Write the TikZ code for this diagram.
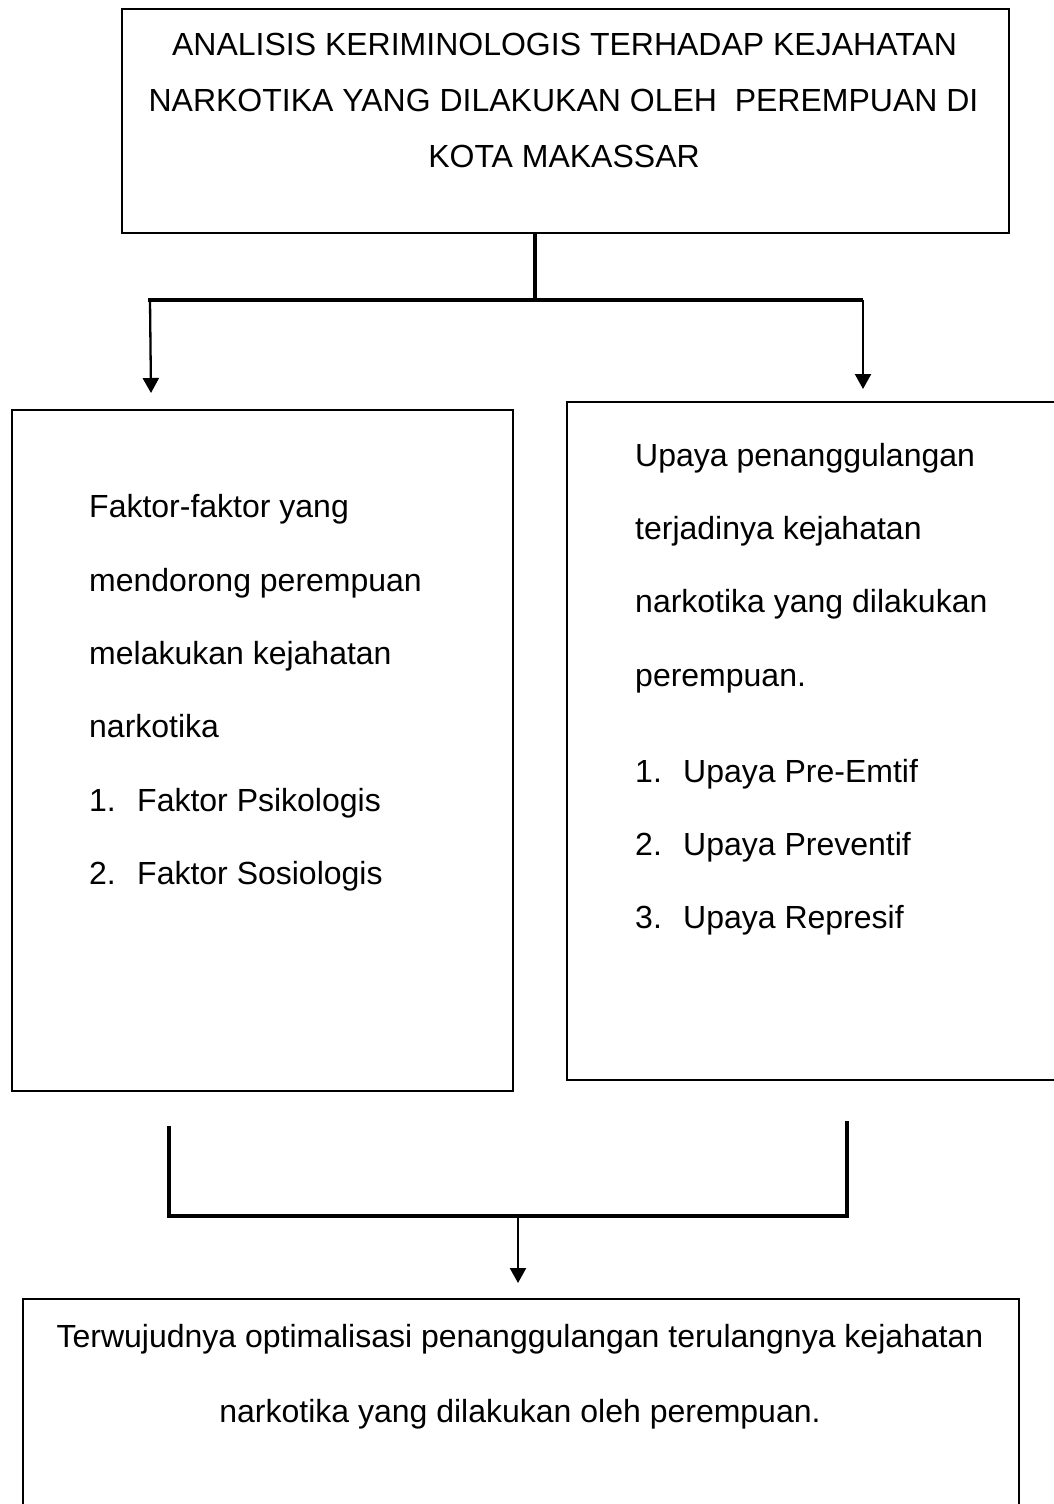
\documentclass[tikz,border=0pt]{standalone}
\usepackage{fontspec}
\setmainfont{Liberation Sans}
\usetikzlibrary{arrows.meta}
\newcommand\diagfs{\fontsize{32}{38}\selectfont}
\tikzset{
  box/.style={draw, line width=2pt, rectangle, inner sep=0pt, anchor=north west},
  txt/.style={anchor=base west, inner sep=0pt, font=\diagfs},
  ctxt/.style={anchor=base, inner sep=0pt, font=\diagfs},
  bar/.style={line width=4pt, line cap=rect},
  arr/.style={line width=2.3pt, -{Triangle[width=16pt,length=15pt]}}
}
\begin{document}
\begin{tikzpicture}[x=1pt, y=-1pt]
\path[use as bounding box, clip] (0,0) rectangle (1054,1504);
\fill[white] (0,0) rectangle (1054,1504);

% boxes
\node[box, minimum width=887pt, minimum height=224pt] (top) at (121,8) {};
\node[box, minimum width=501pt, minimum height=681pt] (left) at (11,409) {};
\node[box, minimum width=500pt, minimum height=678pt] (right) at (566,401) {};
\node[box, minimum width=996pt, minimum height=230pt] (bottom) at (22,1298) {};

% top text
\node[ctxt] (t1) at (564.5,56) {ANALISIS KERIMINOLOGIS TERHADAP KEJAHATAN};
\node[ctxt] (t2) at (563.5,111) {NARKOTIKA YANG DILAKUKAN OLEH\ \ PEREMPUAN DI};
\node[ctxt] (t3) at (564,167) {KOTA MAKASSAR};

% left text
\node[txt] (l1) at (89,517) {Faktor-faktor yang};
\node[txt] (l2) at (89,591) {mendorong perempuan};
\node[txt] (l3) at (89,664) {melakukan kejahatan};
\node[txt] (l4) at (89,737) {narkotika};
\node[txt] (l5n) at (89,811) {1.};
\node[txt] (l5) at (137,811) {Faktor Psikologis};
\node[txt] (l6n) at (89,884) {2.};
\node[txt] (l6) at (137,884) {Faktor Sosiologis};

% right text
\node[txt] (r1) at (635,466) {Upaya penanggulangan};
\node[txt] (r2) at (635,539) {terjadinya kejahatan};
\node[txt] (r3) at (635,612) {narkotika yang dilakukan};
\node[txt] (r4) at (635,686) {perempuan.};
\node[txt] (r5n) at (635,782) {1.};
\node[txt] (r5) at (683,782) {Upaya Pre-Emtif};
\node[txt] (r6n) at (635,855) {2.};
\node[txt] (r6) at (683,855) {Upaya Preventif};
\node[txt] (r7n) at (635,928) {3.};
\node[txt] (r7) at (683,928) {Upaya Represif};

% bottom text
\node[ctxt] (b1) at (520,1347) {Terwujudnya optimalisasi penanggulangan terulangnya kejahatan};
\node[ctxt] (b2) at (520,1422) {narkotika yang dilakukan oleh perempuan.};

% upper connectors
\coordinate (jm) at (535,300);
\coordinate (jl) at (150,300);
\coordinate (jr) at (863,300);
\coordinate (tl) at (151,393);
\coordinate (tr) at (863,389);
\draw[bar, line cap=butt] (jm |- top.south) -- (jm);
\draw[bar, line cap=butt] ([xshift=-2pt]jl) -- (jr);
\draw[arr] (jl) -- (tl);
\draw[arr] (jr) -- (tr);

% lower connectors
\coordinate (ll) at (169,1128);
\coordinate (lr) at (847,1123);
\coordinate (bl) at (169,1216);
\coordinate (br) at (847,1216);
\coordinate (bm) at (518,1216);
\coordinate (bt) at (518,1283);
\draw[bar] (ll) -- (bl);
\draw[bar] (lr) -- (br);
\draw[bar] (bl) -- (br);
\draw[arr] (bm) -- (bt);
\end{tikzpicture}
\end{document}
